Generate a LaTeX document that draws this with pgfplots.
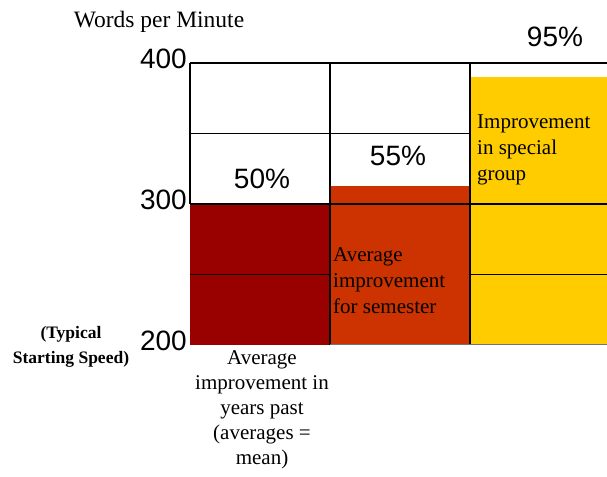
\documentclass[border=0pt]{standalone}
\usepackage{pgfplots}
\pgfplotsset{compat=1.18}
\usepackage{fontspec}
\setmainfont{Liberation Serif}
\newfontfamily\sansf{Liberation Sans}
\definecolor{cA}{HTML}{990000}
\definecolor{cB}{HTML}{CC3300}
\definecolor{cC}{HTML}{FFCC00}
\begin{document}
\begin{tikzpicture}
\useasboundingbox (0,0) rectangle (607pt,476pt);
\begin{axis}[at={(190pt,131pt)}, anchor=south west, scale only axis,
  width=417pt, height=282pt,
  xmin=0, xmax=2.98, ymin=200, ymax=400,
  axis line style={draw=none},
  xtick=\empty, ytick={200,300,400}, major tick length=0pt,
  /pgf/number format/assume math mode=true,
  yticklabel style={font=\sansf\fontsize{28}{28}\selectfont, anchor=east, inner sep=0pt, xshift=-3pt, yshift=4pt},
  clip mode=individual]
\addplot[ybar, bar shift=0pt, bar width=1, fill=cA, draw=none] coordinates {(0.5,300)};
\addplot[ybar, bar shift=0pt, bar width=1, fill=cB, draw=none] coordinates {(1.5,312.5)};
\addplot[ybar, bar shift=0pt, bar width=1, fill=cC, draw=none] coordinates {(2.5,390)};
\draw[line width=1.7pt] (axis cs:0,400) -- (axis cs:2.98,400);
\draw[line width=1.7pt] (axis cs:0,300) -- (axis cs:0,400);
\draw[line width=1.7pt] (axis cs:0,350) -- (axis cs:2,350);
\draw[line width=1.7pt] (axis cs:0,300) -- (axis cs:2.98,300);
\draw[line width=1.7pt] (axis cs:0,250) -- (axis cs:1,250);
\draw[line width=1.7pt] (axis cs:2,250) -- (axis cs:2.98,250);
\draw[line width=1.7pt] (axis cs:1,200) -- (axis cs:1,400);
\draw[line width=1.7pt] (axis cs:2,200) -- (axis cs:2,400);
\draw[line width=1pt, black!55] (axis cs:1,200) -- (axis cs:2.98,200);
\end{axis}
\node[font=\fontsize{23.5}{23.5}\selectfont] at (159pt,454pt) {Words per Minute};
\node[font=\sansf\fontsize{28}{28}\selectfont] at (262pt,297pt) {50\%};
\node[font=\sansf\fontsize{28}{28}\selectfont] at (398pt,320pt) {55\%};
\node[font=\sansf\fontsize{28}{28}\selectfont] at (555pt,439pt) {95\%};
\node[anchor=north west, align=left, inner sep=0pt, font=\fontsize{21}{26}\selectfont] at (333pt,229pt) {Average\\improvement\\for semester};
\node[anchor=north west, align=left, inner sep=0pt, font=\fontsize{21}{26}\selectfont] at (477pt,361pt) {Improvement\\in special\\group};
\node[anchor=north, align=center, inner sep=0pt, font=\fontsize{21}{25}\selectfont] at (262pt,126pt) {Average\\improvement in\\years past\\(averages =\\mean)};
\node[align=center, inner sep=0pt, font=\bfseries\fontsize{17.5}{25}\selectfont] at (71pt,129pt) {(Typical\\Starting Speed)};
\end{tikzpicture}
\end{document}
